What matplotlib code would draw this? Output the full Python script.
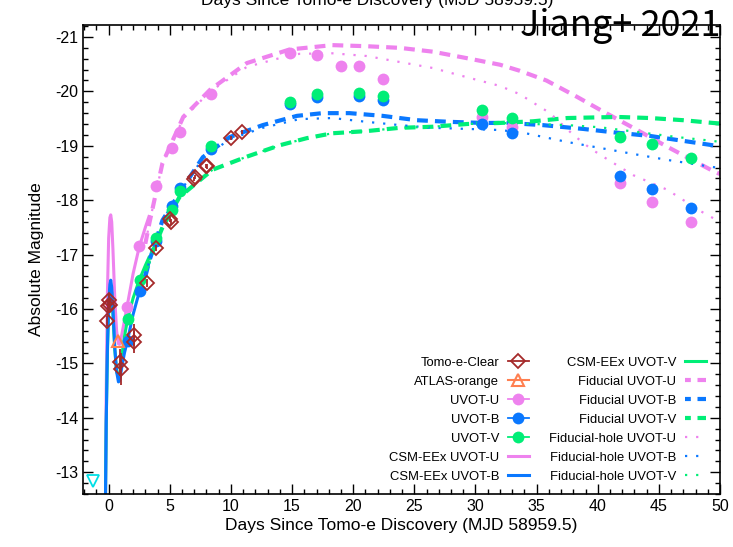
import numpy as np
import matplotlib
matplotlib.use("Agg")
import matplotlib.pyplot as plt
from matplotlib.lines import Line2D

plt.rcParams['font.family'] = ['Liberation Sans', 'DejaVu Sans']
plt.rcParams['axes.unicode_minus'] = False

# colours
c_u = '#ee82ee'
c_b = '#0a78ff'
c_v = '#00ee77'
c_tomo = '#a52a2a'
c_atlas = '#ff7f50'
c_lim = '#00dfe6'

# Tomo-e-Clear photometry
tomo_t = [-0.1, -0.05, 0.0, 0.1, 0.95, 1.0, 2.05, 2.1, 3.1, 3.9, 5.0, 5.1, 7.0, 7.05, 7.95, 8.05, 10.0, 10.9]
tomo_m = [-15.78, -16.05, -16.17, -16.08, -15.02, -14.9, -15.52, -15.4, -16.48, -17.12,
          -17.65, -17.6, -18.39, -18.43, -18.63, -18.62, -19.14, -19.25]
tomo_err = [0.1, 0.12, 0.1, 0.1, 0.25, 0.3, 0.2, 0.2, 0.08, 0.06, 0.05, 0.05, 0.04, 0.04, 0.04, 0.04, 0.04, 0.04]

# ATLAS-orange
atlas_t = [0.8]
atlas_m = [-15.41]

# upper limit before discovery
lim_t = [-1.25]
lim_m = [-12.84]

# Swift UVOT
u_t = [1.5, 2.5, 3.9, 5.2, 5.8, 8.4, 14.8, 17.0, 19.0, 20.5, 22.4, 30.5, 33.0, 41.8, 44.4, 47.6]
u_m = [-16.04, -17.16, -18.26, -18.96, -19.25, -19.95, -20.7, -20.67, -20.47, -20.47, -20.23,
       -19.53, -19.35, -18.32, -17.97, -17.60]
bv_t = [1.55, 2.55, 3.85, 5.15, 5.8, 8.4, 14.8, 17.0, 20.5, 22.4, 30.5, 33.0, 41.8, 44.4, 47.6]
b_m = [-15.41, -16.33, -17.25, -17.9, -18.22, -18.95, -19.77, -19.9, -19.91, -19.84, -19.40,
       -19.24, -18.45, -18.2, -17.86]
v_m = [-15.82, -16.53, -17.3, -17.82, -18.17, -19.0, -19.8, -19.95, -19.97, -19.92, -19.66,
       -19.51, -19.16, -19.03, -18.78]

# CSM-EEx models (early part)
csm_t = [-0.26, -0.2, -0.1, 0.0, 0.1, 0.17, 0.25, 0.35, 0.5, 0.65, 0.8, 0.9, 1.05, 1.3, 1.55, 2.0, 2.5, 3.0, 3.3]
csm_u = [-12.5, -14.5, -16.3, -17.3, -17.68, -17.73, -17.6, -17.1, -16.2, -15.6, -15.36, -15.35,
         -15.5, -15.8, -16.1, -16.65, -17.14, -17.5, -17.7]
csm_b = [-12.5, -13.9, -15.3, -16.1, -16.45, -16.53, -16.4, -16.0, -15.3, -14.85, -14.66, -14.68,
         -14.9, -15.2, -15.43, -15.9, -16.31, -16.65, -16.85]
csm_v = [-12.5, -13.9, -15.2, -16.0, -16.35, -16.42, -16.3, -15.9, -15.25, -14.85, -14.75, -14.8,
         -15.1, -15.5, -15.82, -16.2, -16.53, -16.8, -16.95]

# Fiducial models
fid_u_t = [3.0, 3.35, 4.4, 6.1, 8.3, 11.3, 14.8, 18.3, 21.1, 23.8, 26.5, 29.3, 32.0, 33.6,
           35.8, 38.3, 40.2, 42.9, 45.7, 49.4, 50.0]
fid_u = [-17.2, -17.6, -18.68, -19.53, -20.03, -20.52, -20.77, -20.85, -20.83, -20.8, -20.73,
         -20.61, -20.49, -20.38, -20.2, -19.9, -19.66, -19.33, -18.98, -18.54, -18.48]
fid_b_t = [3.0, 3.35, 4.4, 6.1, 7.7, 9.9, 12.6, 15.4, 17.5, 19.7, 22.4, 25.2, 27.9, 30.6, 32.6,
           35.5, 38.8, 41.6, 44.3, 46.7, 49.4, 50.0]
fid_b = [-16.6, -16.9, -17.63, -18.24, -18.79, -19.16, -19.38, -19.55, -19.6, -19.6, -19.55,
         -19.47, -19.44, -19.42, -19.42, -19.38, -19.31, -19.24, -19.18, -19.1, -19.01, -18.99]
fid_v_t = [3.0, 3.5, 4.4, 5.8, 8.5, 11.3, 14.0, 16.2, 18.3, 21.1, 23.8, 26.5, 29.3, 32.0, 34.7,
           37.5, 41.6, 44.3, 47.0, 49.4, 50.0]
fid_v = [-16.7, -17.0, -17.5, -18.06, -18.56, -18.8, -19.01, -19.14, -19.23, -19.27, -19.33,
         -19.35, -19.4, -19.42, -19.45, -19.51, -19.53, -19.51, -19.47, -19.42, -19.41]

# Fiducial-hole models
hole_u_t = [3.0, 3.35, 4.4, 6.1, 8.3, 11.3, 14.8, 15.6, 18.3, 21.1, 23.8, 26.5, 29.3, 32.0, 33.6,
            36.1, 38.0, 39.4, 40.8, 42.9, 45.7, 48.4, 50.0]
hole_u = [-17.2, -17.6, -18.68, -19.5, -20.0, -20.45, -20.66, -20.69, -20.7, -20.65, -20.54,
          -20.43, -20.26, -20.1, -19.95, -19.6, -19.2, -18.95, -18.75, -18.46, -18.19, -17.8, -17.6]
hole_b_t = [3.0, 3.35, 4.4, 6.1, 7.7, 9.9, 12.6, 15.6, 18.3, 21.1, 23.8, 26.5, 29.3, 32.0, 33.9,
            37.5, 40.2, 42.9, 45.7, 49.4, 50.0]
hole_b = [-16.6, -16.9, -17.63, -18.24, -18.77, -19.12, -19.33, -19.49, -19.51, -19.44, -19.38,
          -19.33, -19.31, -19.29, -19.24, -19.07, -18.96, -18.85, -18.74, -18.61, -18.59]
hole_v_t = [3.0, 3.5, 4.4, 5.8, 8.5, 11.3, 14.0, 16.2, 18.3, 21.1, 23.8, 26.5, 29.3, 32.0, 37.5,
            40.2, 43.7, 46.5, 49.4, 50.0]
hole_v = [-16.7, -17.0, -17.5, -18.06, -18.56, -18.8, -19.01, -19.14, -19.23, -19.27, -19.33,
          -19.35, -19.4, -19.42, -19.38, -19.34, -19.24, -19.16, -19.09, -19.07]

fig = plt.figure(figsize=(7.33, 5.47), dpi=100)
ax = fig.add_axes([0.1132, 0.0969, 0.8691, 0.8574])

dash = (0, (2.6, 1.7))
dash_leg = (0.8, (2.2, 1.6))
dot = (0, (1, 4))

# models
ax.plot(csm_t, csm_u, color=c_u, lw=2.2, zorder=2)
ax.plot(csm_t, csm_v, color=c_v, lw=2.2, zorder=2)
ax.plot(csm_t, csm_b, color=c_b, lw=2.2, zorder=2)
ax.plot(fid_u_t, fid_u, color=c_u, lw=3, ls=dash, zorder=2)
ax.plot(fid_b_t, fid_b, color=c_b, lw=3, ls=dash, zorder=2)
ax.plot(fid_v_t, fid_v, color=c_v, lw=3, ls=dash, zorder=2)
ax.plot(hole_u_t, hole_u, color=c_u, lw=1.6, ls=dot, zorder=2)
ax.plot(hole_b_t, hole_b, color=c_b, lw=1.6, ls=dot, zorder=2)
ax.plot(hole_v_t, hole_v, color=c_v, lw=1.6, ls=dot, zorder=2)

# data
ax.plot(u_t, u_m, 'o', color=c_u, ms=8.5, mec='none', zorder=3)
ax.plot(bv_t, b_m, 'o', color=c_b, ms=8.5, mec='none', zorder=3)
ax.plot(bv_t, v_m, 'o', color=c_v, ms=8.5, mec='none', zorder=3)
ax.errorbar(tomo_t, tomo_m, yerr=tomo_err, fmt='D', color=c_tomo, ms=7, mfc='none',
            mew=1.3, elinewidth=1.3, capsize=0, zorder=4)
ax.plot(atlas_t, atlas_m, '^', color=c_atlas, ms=9, mfc='none', mew=1.5, zorder=4)
ax.plot(lim_t, lim_m, 'v', color=c_lim, ms=9, mfc='none', mew=1.3, zorder=4)

ax.set_xlim(-2.1, 50)
ax.set_ylim(-12.6, -21.22)
ax.set_xticks(np.arange(0, 51, 5))
ax.set_xticks(np.arange(-2, 51, 1), minor=True)
ax.set_yticks(np.arange(-21, -12, 1))
ax.set_yticks(np.arange(-21.2, -12.5, 0.2), minor=True)
ax.tick_params(which='both', direction='in', top=True, right=True, labelsize=11.5)
ax.tick_params(which='major', length=7, width=1)
ax.tick_params(which='minor', length=3.5, width=1)
for s in ax.spines.values():
    s.set_linewidth(1.2)

ax.set_xlabel('Days Since Tomo-e Discovery (MJD 58959.5)', fontsize=12.5, labelpad=3)
ax.set_ylabel('Absolute Magnitude', fontsize=12.5, labelpad=8)

# top label of the panel, cut by the figure edge as in the source image
fig.text(0.515, 0.991, 'Days Since Tomo-e Discovery (MJD 58959.5)', fontsize=12.5,
         ha='center', va='baseline')
fig.text(0.983, 0.935, 'Jiang+ 2021', fontsize=26, ha='right', va='baseline',
         family=['Noto Sans CJK JP', 'DejaVu Sans'])

handles = [
    Line2D([], [], color=c_tomo, marker='D', ms=7, mfc='none', mew=1.3, lw=1.3),
    Line2D([], [], color=c_atlas, marker='^', ms=9, mfc='none', mew=1.5, lw=1.5),
    Line2D([], [], color=c_u, marker='o', ms=8.5, mec='none', lw=1.3),
    Line2D([], [], color=c_b, marker='o', ms=8.5, mec='none', lw=1.3),
    Line2D([], [], color=c_v, marker='o', ms=8.5, mec='none', lw=1.3),
    Line2D([], [], color=c_u, lw=2.2),
    Line2D([], [], color=c_b, lw=2.2),
    Line2D([], [], color=c_v, lw=2.2),
    Line2D([], [], color=c_u, lw=3, ls=dash_leg),
    Line2D([], [], color=c_b, lw=3, ls=dash_leg),
    Line2D([], [], color=c_v, lw=3, ls=dash_leg),
    Line2D([], [], color=c_u, lw=1.6, ls=dot),
    Line2D([], [], color=c_b, lw=1.6, ls=dot),
    Line2D([], [], color=c_v, lw=1.6, ls=dot),
]
labels = ['Tomo-e-Clear', 'ATLAS-orange', 'UVOT-U', 'UVOT-B', 'UVOT-V', 'CSM-EEx UVOT-U',
          'CSM-EEx UVOT-B', 'CSM-EEx UVOT-V', 'Fiducial UVOT-U', 'Fiducial UVOT-B',
          'Fiducial UVOT-V', 'Fiducial-hole UVOT-U', 'Fiducial-hole UVOT-B', 'Fiducial-hole UVOT-V']
ax.legend(handles, labels, ncol=2, loc='lower right', frameon=False, markerfirst=False,
          fontsize=9.4, handlelength=1.6, labelspacing=0.52, columnspacing=1.6,
          handletextpad=0.65, borderaxespad=0.3, bbox_to_anchor=(0.992, 0.005))

fig.savefig('out.png', dpi=100)
